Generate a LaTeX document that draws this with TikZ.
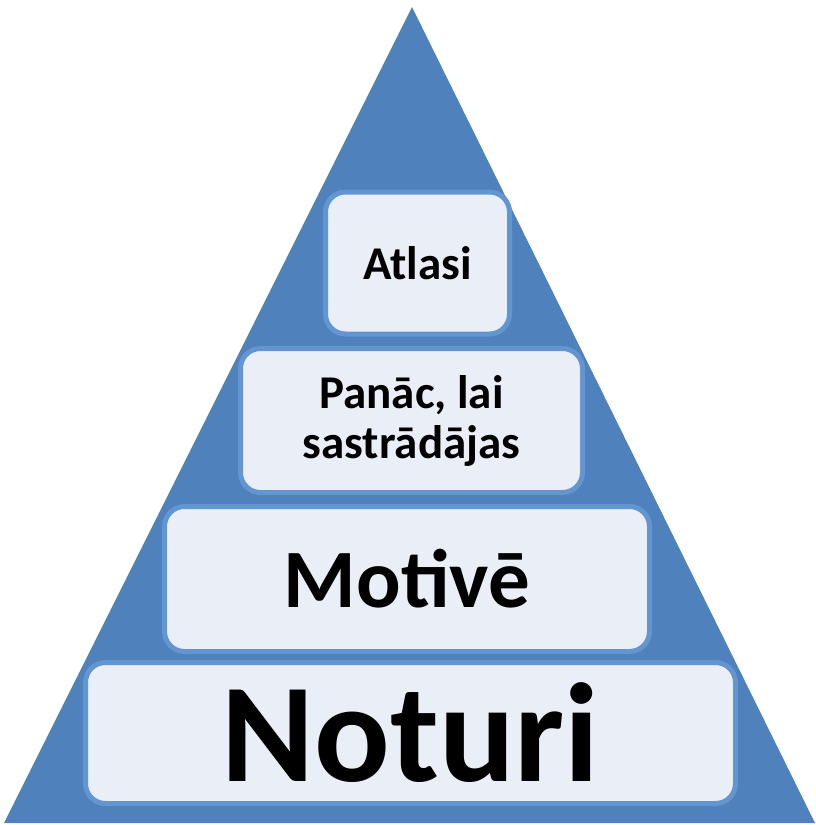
\documentclass[tikz,border=0pt]{standalone}
\usepackage{fontspec}
\setmainfont{Carlito}
\definecolor{pyrblue}{HTML}{4F81BD}
\definecolor{boxline}{HTML}{6396D0}
\definecolor{boxfill}{HTML}{EAEFF7}
\begin{document}
\begin{tikzpicture}[x=1pt,y=-1pt,
        level/.style={draw=boxline,line width=5pt,fill=boxfill,rounded corners=20pt,
            inner sep=0pt,align=center,font=\bfseries}]
        \useasboundingbox (0,0) rectangle (816,825);
        \fill[pyrblue] (412,7) -- (4,823) -- (815,823) -- cycle;
        \node[level,minimum width=650pt,minimum height=141pt,
            font=\bfseries\fontsize{141}{141}\selectfont] (noturi) at (410.5,733) {Noturi};
        \node[level,minimum width=485pt,minimum height=145pt,
            font=\bfseries\fontsize{83}{83}\selectfont] (motive) at (407,579) {Motivē};
        \node[level,minimum width=342pt,minimum height=144pt,
            font=\bfseries\fontsize{47}{50}\selectfont] (panac) at (411.5,420.5) {Panāc, lai\\sastrādājas};
        \node[level,minimum width=184pt,minimum height=142pt,
            font=\bfseries\fontsize{47}{50}\selectfont] (atlasi) at (417.5,263) {Atlasi};
    \end{tikzpicture}
\end{document}
